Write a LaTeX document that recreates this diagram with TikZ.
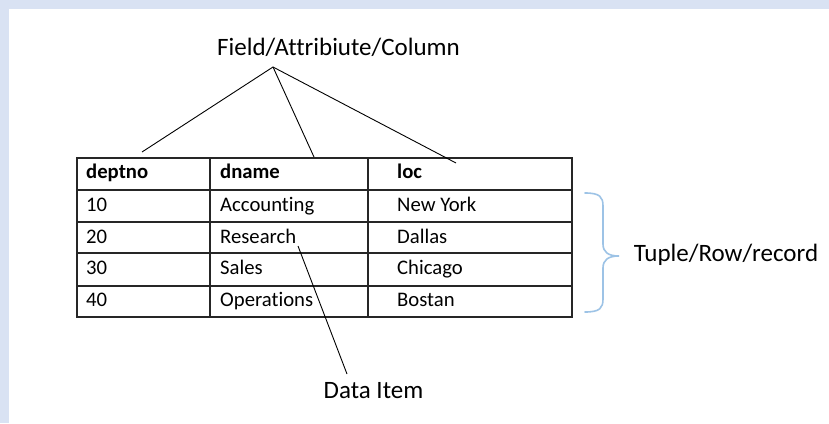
\documentclass[tikz,border=0pt]{standalone}
\usepackage{fontspec}
\setmainfont[Ligatures={NoCommon}]{Carlito}
\begin{document}
\begin{tikzpicture}[x=1pt,y=-1pt,
  cell/.style={anchor=base west,inner sep=0pt,font=\fontsize{20.7}{24}\selectfont},
  head/.style={cell,font=\fontsize{20.7}{24}\selectfont\bfseries},
  lbl/.style={anchor=base,inner sep=0pt,font=\fontsize{25}{30}\selectfont},
  grid/.style={draw=black!85,line width=1.2pt},
  conn/.style={draw=black,line width=0.9pt},
  bracecol/.style={draw=brace,line width=1.6pt,line cap=round}]
\definecolor{frame}{HTML}{D9E2F3}
\definecolor{brace}{HTML}{9DC3E6}
\useasboundingbox (0,0) rectangle (829,423);
\fill[frame] (0,0) rectangle (829,423);
\fill[white] (9,9) rectangle (829,423);
% table grid
\draw[grid] (77,158) rectangle (572,317);
\foreach \yy in {190,222,253,286} \draw[grid] (77,\yy) -- (572,\yy);
\draw[grid] (210,158) -- (210,317);
\draw[grid] (368,158) -- (368,317);
% cells
\node[head] (h1) at (86,178) {deptno};
\node[head] (h2) at (220,178) {dname};
\node[head] (h3) at (397,178) {loc};
\node[cell] (a1) at (86,211) {10};
\node[cell] (a2) at (220,211) {Accounting};
\node[cell] (a3) at (397,211) {New York};
\node[cell] (b1) at (86,243) {20};
\node[cell] (b2) at (220,243) {Research};
\node[cell] (b3) at (397,243) {Dallas};
\node[cell] (c1) at (86,274.5) {30};
\node[cell] (c2) at (220,274.5) {Sales};
\node[cell] (c3) at (397,274.5) {Chicago};
\node[cell] (d1) at (86,306.5) {40};
\node[cell] (d2) at (220,306.5) {Operations};
\node[cell] (d3) at (397,306.5) {Bostan};
% labels
\node[lbl] (title) at (338.5,55) {Field/Attribiute/Column};
\node[lbl] (tuple) at (726,261.5) {Tuple/Row/record};
\node[lbl] (item) at (373.5,398) {Data Item};
% connectors
\coordinate (apex) at (273,67);
\coordinate (e1) at (142,152);
\coordinate (e2) at (314,157);
\coordinate (e3) at (456,163);
\coordinate (ds) at (298,246);
\coordinate (de) at (347,374);
\draw[conn] (e1) -- (apex) -- (e3);
\draw[conn] (apex) -- (e2);
\draw[conn] (ds) -- (de);
% brace
\draw[bracecol] (585,193) .. controls (600,193) and (603,197) .. (603,206)
  -- (603,244) .. controls (603,252) and (608,256) .. (619,256)
  .. controls (608,256) and (603,260) .. (603,268)
  -- (603,299) .. controls (603,308) and (600,312) .. (585,312);
\end{tikzpicture}
\end{document}
